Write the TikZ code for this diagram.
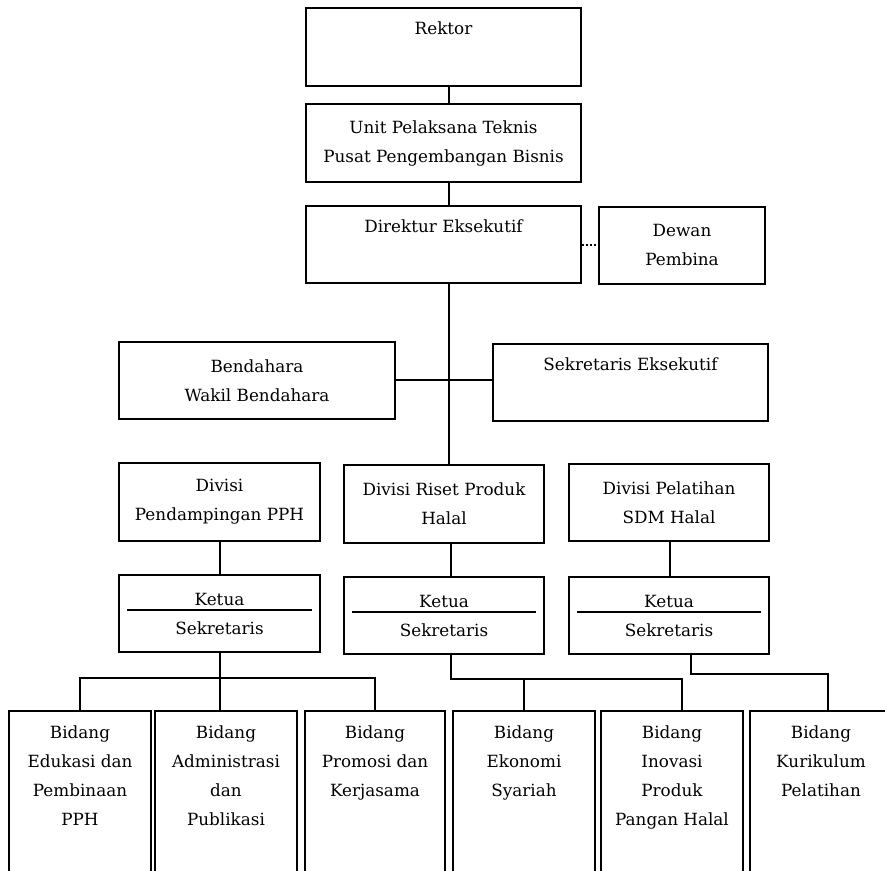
\documentclass[tikz,border=0pt]{standalone}
\usepackage{fontspec}
\setmainfont{DejaVu Serif}
\usetikzlibrary{calc}

\begin{document}
\begin{tikzpicture}[%
    x=1pt, y=1pt,
    every node/.style={font=\fontsize{16.8}{29}\selectfont},
    kotak/.style={%
        draw,
        line width=1.8pt,
        align=center,
        inner sep=0pt,
        minimum width=200pt,
        minimum height=77pt,
    },
    bidang/.style={%
        kotak,
        anchor=north,
        minimum width=142pt,
        minimum height=190pt,
    },
    teks/.style={anchor=north, align=center, inner sep=0pt, yshift=-16pt},
    garis/.style={line width=1.7pt},
]
\useasboundingbox (0,0) rectangle (885,870);
\clip (0,0) rectangle (885,870);

% pimpinan
\node[kotak, minimum width=275pt, minimum height=78pt] (rektor) at (443.5,823) {Rektor\\\strut};
\node[kotak, minimum width=275pt, minimum height=78pt] (upt) at (443.5,727) {Unit Pelaksana Teknis\\Pusat Pengembangan Bisnis};
\node[kotak, minimum width=275pt] (direktur) at (443.5,625.5) {Direktur Eksekutif\\\strut};
\node[kotak, minimum width=166pt] (dewan) at (682,624.5) {Dewan\\Pembina};

\node[kotak, minimum width=276pt] (bendahara) at (257,489.5) {Bendahara\\Wakil Bendahara};
\node[kotak, minimum width=275pt] (sekeks) at (630.5,487.5) {Sekretaris Eksekutif\\\strut};

% divisi
\node[kotak, minimum width=201pt, minimum height=78pt] (div1) at (219.5,368) {Divisi\\Pendampingan PPH};
\node[kotak, minimum height=78pt] (div2) at (444,366) {Divisi Riset Produk\\Halal};
\node[kotak] (div3) at (669,367.5) {Divisi Pelatihan\\SDM Halal};

\node[kotak, minimum width=201pt] (ketua1) at (219.5,256.5) {Ketua\\Sekretaris};
\node[kotak] (ketua2) at (444,254.5) {Ketua\\Sekretaris};
\node[kotak] (ketua3) at (669,254.5) {Ketua\\Sekretaris};

\foreach \k in {ketua1,ketua2,ketua3}
    \draw[garis] ([xshift=9pt,yshift=3.5pt]\k.west) -- ([xshift=-9pt,yshift=3.5pt]\k.east);

% bidang
\node[bidang] (bid1) at (80,160) {};
\node[teks] at (bid1.north) {Bidang\\Edukasi dan\\Pembinaan\\PPH};
\node[bidang] (bid2) at (226,160) {};
\node[teks] at (bid2.north) {Bidang\\Administrasi\\dan\\Publikasi};
\node[bidang, minimum width=140pt] (bid3) at (375,160) {};
\node[teks] at (bid3.north) {Bidang\\Promosi dan\\Kerjasama};
\node[bidang] (bid4) at (524,160) {};
\node[teks] at (bid4.north) {Bidang\\Ekonomi\\Syariah};
\node[bidang] (bid5) at (672,160) {};
\node[teks] at (bid5.north) {Bidang\\Inovasi\\Produk\\Pangan Halal};
\node[bidang] (bid6) at (821,160) {};
\node[teks] at (bid6.north) {Bidang\\Kurikulum\\Pelatihan};

% garis penghubung
\coordinate (poros) at (449,0);
\coordinate (poros2) at (451,0);
\draw[garis] (rektor.south -| poros) -- (upt.north -| poros);
\draw[garis] (upt.south -| poros) -- (direktur.north -| poros);
\draw[garis] (direktur.south -| poros) -- (div2.north -| poros);
\draw[garis, dash pattern=on 2pt off 2pt] ([yshift=-.5pt]direktur.east) -- ([yshift=-.5pt]direktur.east -| dewan.west);
\draw[garis] ([yshift=.5pt]bendahara.east) -- ([yshift=.5pt]bendahara.east -| sekeks.west);

\draw[garis] ([xshift=.5pt]div1.south) -- ([xshift=.5pt]ketua1.north);
\draw[garis] (div2.south -| poros2) -- (ketua2.north -| poros2);
\draw[garis] ([xshift=1pt]div3.south) -- ([xshift=1pt]ketua3.north);

\coordinate (kiri) at (0,192);
\draw[garis] (bid1.north) |- (kiri -| bid3.north) -- (bid3.north);
\draw[garis] ([xshift=.5pt]ketua1.south) -- ([xshift=.5pt]ketua1.south |- bid2.north);

\coordinate (tengah) at (682,191);
\draw[garis] (ketua2.south -| poros2) |- (tengah) -- (tengah |- bid5.north);
\draw[garis] (bid4.north) -- (bid4.north |- tengah);

\coordinate (kanan) at (828,196);
\draw[garis] ([xshift=22pt]ketua3.south) |- (kanan) -- (kanan |- bid6.north);

\end{tikzpicture}
\end{document}
